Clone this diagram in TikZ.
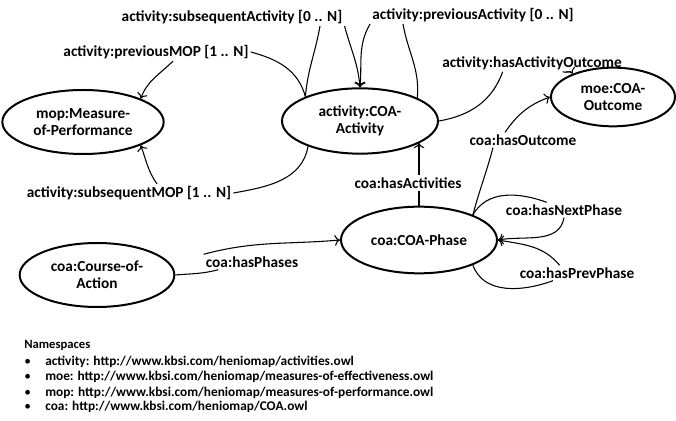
\documentclass[tikz,border=0pt]{standalone}
\usepackage{fontspec}
\setmainfont{Carlito}
\usepackage{tikz}
\usetikzlibrary{shapes.geometric, arrows, arrows.meta}
\usetikzlibrary{positioning}
\tikzstyle{arrow} = [line width=0.8pt,-{To[length=4pt,width=8pt]}]
\tikzstyle{link} = [line width=0.8pt]

\begin{document}
\begin{tikzpicture}[
  x=0.75pt, y=0.75pt,
  every node/.style={align=center, font=\fontsize{11.5}{13}\selectfont\bfseries},
  class/.style={draw, ellipse, line width=1.5pt, inner sep=0pt},
  rel/.style={inner sep=1.5pt},
  ns/.style={anchor=base west, inner sep=0pt, font=\fontsize{10}{11}\selectfont\bfseries}
]
\useasboundingbox (0,0) rectangle (676,421);
% 类
\node[class, minimum width=121pt, minimum height=48pt] (mop) at (83,299) {mop:Measure-\\of-Performance};
\node[class, minimum width=117pt, minimum height=49pt] (activity) at (360,300) {activity:COA-\\Activity};
\node[class, minimum width=93pt, minimum height=44pt] (moe) at (613,324) {moe:COA-\\Outcome};
\node[class, minimum width=117pt, minimum height=50pt] (phase) at (419,181) {coa:COA-Phase};
\node[class, minimum width=116pt, minimum height=48pt] (course) at (97,146) {coa:Course-of-\\Action};

% 关系
\node[rel] (lSubAct) at (232,404) {activity:subsequentActivity [0 .. N]};
\node[rel] (lPrevAct) at (473,406) {activity:previousActivity [0 .. N]};
\node[rel] (lPrevMOP) at (156,369) {activity:previousMOP [1 .. N]};
\node[rel] (lSubMOP) at (129,228) {activity:subsequentMOP [1 .. N]};
\node[rel] (lOutcomeA) at (532,358) {activity:hasActivityOutcome};
\node[rel] (lOutcome) at (523,281) {coa:hasOutcome};
\node[rel] (lActs) at (408,238) {coa:hasActivities};
\node[rel] (lNext) at (564,211) {coa:hasNextPhase};
\node[rel] (lPrev) at (577,148) {coa:hasPrevPhase};
\node[rel] (lPhases) at (252,159) {coa:hasPhases};

\draw[link] (activity.156) to[out=105,in=-15] (lPrevMOP.east);
\draw[arrow] ([xshift=12.75pt]lPrevMOP.south) to[out=-135,in=70] (mop.22);
\draw[link] (activity.206) to[out=-100,in=10] (lSubMOP.east);
\draw[arrow] ([xshift=21pt]lSubMOP.north) to[out=125,in=-70] (mop.-22);

\draw[link] (activity.156) to[out=85,in=-100] ([xshift=66pt]lSubAct.south);
\draw[arrow] (lSubAct.south east) to[out=-75,in=95] (activity.north);
\draw[arrow] (lPrevAct.south west) to[out=-120,in=85] (activity.north);
\draw[link] (activity.22) to[out=85,in=-80] ([xshift=-52.5pt]lPrevAct.south);

\draw[link] (activity.east) to[out=10,in=-110] ([xshift=-22pt]lOutcomeA.south);
\draw[arrow] ([xshift=23pt]lOutcomeA.south) to[out=-20,in=120] (moe.150);

\draw[link] (phase.25) to[out=75,in=-105] ([xshift=-22.5pt]lOutcome.south);
\draw[arrow] ([xshift=-13.5pt]lOutcome.north) to[out=55,in=200] (moe.west);

\draw[link] (phase.north) -- (phase.north |- lActs.south);
\draw[arrow] (phase.north |- lActs.north) -- (phase.north |- activity.340);

\draw[link] (phase.25) to[out=60,in=160] ([xshift=-13pt]lNext.north);
\draw[arrow] (lNext.south) to[out=-100,in=10] (phase.east);
\draw[link] (phase.-25) to[out=-70,in=200] ([xshift=-18pt]lPrev.south);
\draw[arrow] ([xshift=-13pt]lPrev.north) to[out=130,in=-10] (phase.east);

\draw[link] (course.east) to[out=5,in=195] ([xshift=11pt]lPhases.south west);
\draw[arrow] (lPhases.north west) to[out=15,in=185] (phase.west);

% 命名空间
\node[ns, font=\fontsize{9.5}{11}\selectfont\bfseries] (nsHead) at (24,72) {Namespaces};
\node[ns] (ns1) at (24,55) {\makebox[15.75pt][l]{\mdseries\textbullet}activity: http://www.kbsi.com/heniomap/activities.owl};
\node[ns] (ns2) at (24,40) {\makebox[15.75pt][l]{\mdseries\textbullet}moe: http://www.kbsi.com/heniomap/measures-of-effectiveness.owl};
\node[ns] (ns3) at (24,24) {\makebox[15.75pt][l]{\mdseries\textbullet}mop: http://www.kbsi.com/heniomap/measures-of-performance.owl};
\node[ns] (ns4) at (24,10) {\makebox[15.75pt][l]{\mdseries\textbullet}coa: http://www.kbsi.com/heniomap/COA.owl};
\end{tikzpicture}
\end{document}
